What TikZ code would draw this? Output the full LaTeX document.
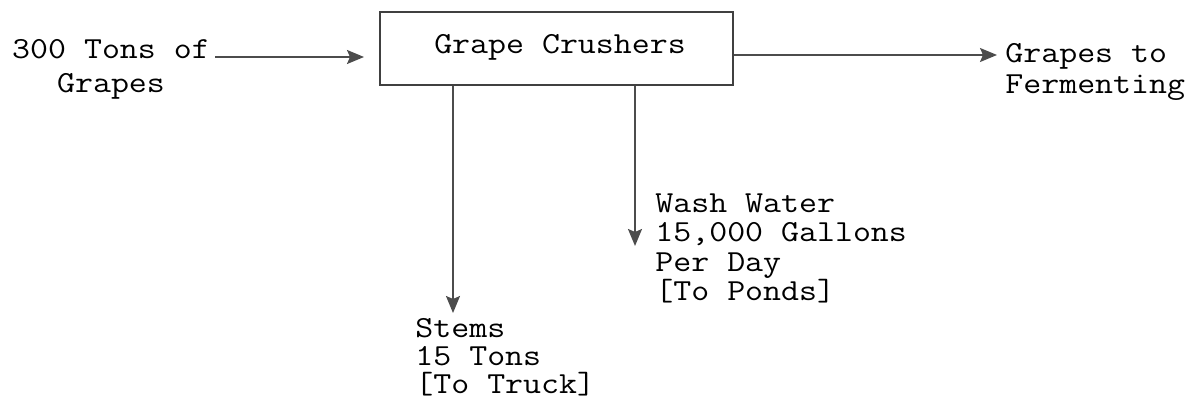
\documentclass[tikz,border=0pt]{standalone}
\usepackage{fontspec}
\setmonofont[FakeStretch=1.14]{Latin Modern Mono}
\usetikzlibrary{arrows.meta}
\newcommand{\tightlns}{\lineskiplimit -20pt\relax\lineskip 0pt\relax}
\tikzset{
  lbl/.style={inner sep=0pt, font={\ttfamily\fontsize{15.3}{#1}\selectfont\tightlns}},
  lbl/.default={15},
  flow/.style={draw=black!70, line width=0.9pt, -{Stealth[length=8.5pt,width=7pt,inset=1.5pt]}},
  unitbox/.style={draw=black!75, line width=1pt, inner sep=0pt}
}
\begin{document}
\begin{tikzpicture}[x=0.5pt,y=-0.5pt]
\useasboundingbox (0,0) rectangle (1202,405);
% main box
\node[unitbox, minimum width=176.5pt, minimum height=36.5pt] (crusher) at (556.5,48.5) {};
\node[lbl] (crtext) at (560,47) {Grape Crushers};
% input
\node[lbl=17, align=center, anchor=north] (in) at (111,39) {300 Tons of\\Grapes};
\coordinate (inS) at (215,57);
\draw[flow, shorten >=7.5pt] (inS) -- (crusher.west |- inS);
% output
\node[lbl=15.5, align=left, anchor=north west] (out) at (1005,43) {Grapes to\\Fermenting};
\coordinate (outE) at (997,55);
\draw[flow] (crusher.east |- outE) -- (outE);
% stems
\node[lbl=14, align=left, anchor=north west] (stems) at (415,318) {Stems\\15 Tons\\{[}To Truck{]}};
\coordinate (stT) at (453,313);
\draw[flow] (crusher.south -| stT) -- (stT);
% wash water
\node[lbl=14.8, align=left, anchor=north west] (wash) at (655,193) {Wash Water\\15,000 Gallons\\Per Day\\{[}To Ponds{]}};
\coordinate (wT) at (635,246);
\draw[flow] (crusher.south -| wT) -- (wT);
\end{tikzpicture}
\end{document}
